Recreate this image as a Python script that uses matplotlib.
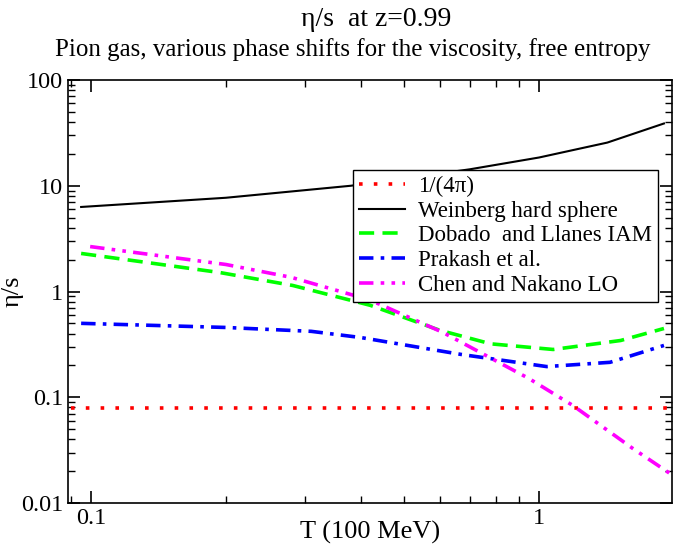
import numpy as np
import matplotlib
matplotlib.use('Agg')
import matplotlib.pyplot as plt
from matplotlib.ticker import LogLocator, NullFormatter, FixedFormatter, FixedLocator

plt.rcParams['font.family'] = ['Liberation Serif', 'DejaVu Serif']

# data (T in 100 MeV, eta/s)
T_bound = [0.09, 2.0]
v_bound = [1 / (4 * np.pi), 1 / (4 * np.pi)]

T_weinberg = [0.095, 0.2, 0.38, 0.7, 1.0, 1.42, 1.9]
v_weinberg = [6.3, 7.7, 10.0, 14.3, 18.5, 25.6, 38.8]

T_dobado = [0.095, 0.194, 0.282, 0.42, 0.6, 0.78, 1.075, 1.52, 1.9]
v_dobado = [2.29, 1.51, 1.14, 0.74, 0.43, 0.32, 0.283, 0.344, 0.447]

T_prakash = [0.095, 0.2, 0.31, 0.4, 0.67, 1.04, 1.44, 1.9]
v_prakash = [0.50, 0.457, 0.42, 0.367, 0.254, 0.195, 0.214, 0.309]

T_chen = [0.0995, 0.2, 0.28, 0.4, 0.44, 0.61, 0.95, 1.19, 1.62, 1.96]
v_chen = [2.66, 1.80, 1.36, 0.88, 0.76, 0.41, 0.15, 0.0835, 0.0327, 0.019]

fig = plt.figure(figsize=(6.86, 5.44), dpi=100)
ax = fig.add_axes([68 / 686, 1 - 503 / 544, 604 / 686, 423 / 544])

ax.plot(T_bound, v_bound, color='red', lw=2.6, ls=(0, (1, 3.1)), label='1/(4π)')
ax.plot(T_weinberg, v_weinberg, color='black', lw=1.5, label='Weinberg hard sphere')
ax.plot(T_dobado, v_dobado, color='#00ff00', lw=2.6, ls=(0, (4.2, 2.3)),
        label='Dobado  and Llanes IAM')
ax.plot(T_prakash, v_prakash, color='blue', lw=2.6, ls=(0, (4, 2, 1, 2)),
        label='Prakash et al.')
ax.plot(T_chen, v_chen, color='magenta', lw=2.6, ls=(0, (4, 2, 1, 2, 1, 2)),
        label='Chen and Nakano LO')

ax.set_xscale('log')
ax.set_yscale('log')
ax.set_xlim(0.0888, 1.98)
ax.set_ylim(0.01, 100)

ax.xaxis.set_major_locator(FixedLocator([0.1, 1]))
ax.xaxis.set_major_formatter(FixedFormatter(['0.1', '1']))
ax.xaxis.set_minor_locator(LogLocator(base=10, subs=np.arange(2, 10)))
ax.xaxis.set_minor_formatter(NullFormatter())
ax.yaxis.set_major_locator(FixedLocator([0.01, 0.1, 1, 10, 100]))
ax.yaxis.set_major_formatter(FixedFormatter(['0.01', '0.1', '1', '10', '100']))
ax.yaxis.set_minor_locator(LogLocator(base=10, subs=np.arange(2, 10)))
ax.yaxis.set_minor_formatter(NullFormatter())

ax.tick_params(which='both', direction='in', top=True, right=True, labelsize=17.5)
ax.tick_params(which='major', length=8.5, width=1.2)
ax.tick_params(which='minor', length=4.8, width=1)
for s in ax.spines.values():
    s.set_linewidth(1.2)

ax.set_xlabel('T (100 MeV)', fontsize=19)
ax.xaxis.set_label_coords(0.5, -0.043)
ax.set_ylabel('η/s', fontsize=19)
ax.yaxis.set_label_coords(-0.074, 0.5)

fig.text(376 / 686, 1 - 20 / 544, 'η/s  at z=0.99', fontsize=20, ha='center', va='center')
fig.text(353 / 686, 1 - 50 / 544,
         'Pion gas, various phase shifts for the viscosity, free entropy',
         fontsize=18, ha='center', va='center')

leg = ax.legend(loc='upper left', bbox_to_anchor=(0.472, 0.787), fontsize=16.5,
                frameon=True, fancybox=False, framealpha=1, edgecolor='black',
                borderaxespad=0, labelspacing=0.16, handletextpad=0.6,
                borderpad=0.25, handlelength=2.0)
leg.get_frame().set_linewidth(1.0)

fig.savefig('out.png', dpi=100)
